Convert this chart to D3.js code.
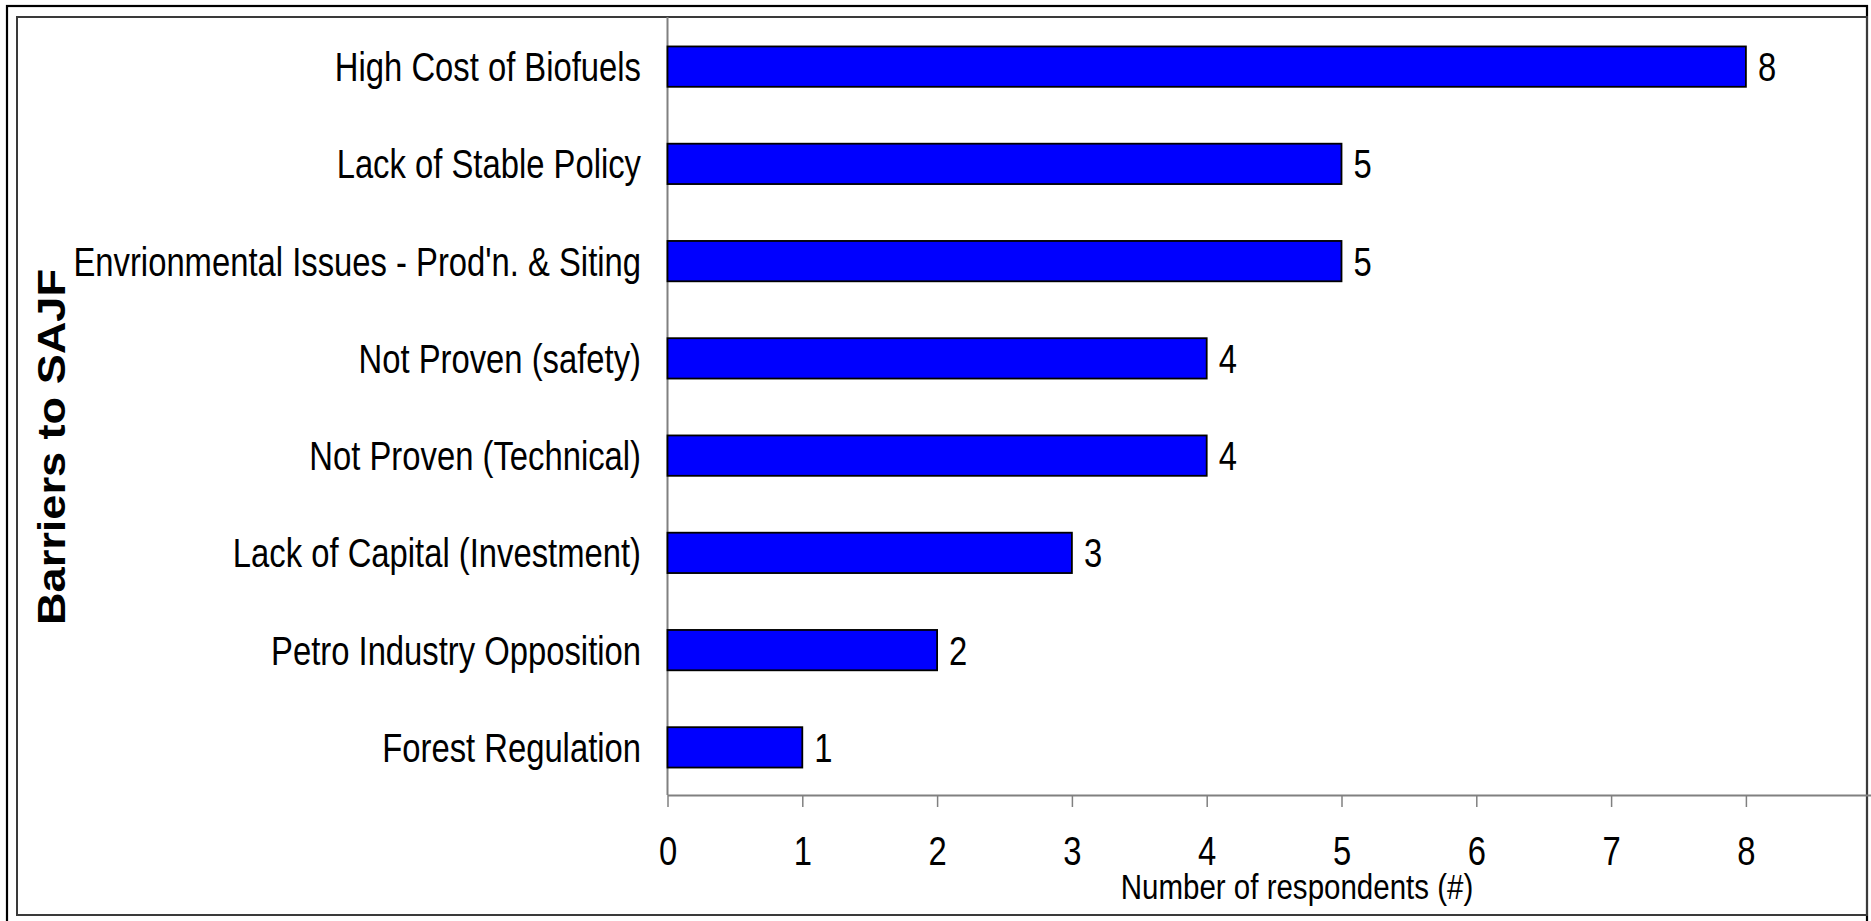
<!DOCTYPE html>
<html>
<head>
<meta charset="utf-8">
<script src="https://cdn.jsdelivr.net/npm/d3@7"></script>
<style>
	body { margin: 0; background: #fff; }
	svg { display: block; }
	text { font-family: 'Liberation Sans', Arial, sans-serif; }
</style>
</head>
<body>
<svg id="chart" width="1871" height="921"></svg>
<script>
/* barriers chart */
var categories = [
	'High Cost of Biofuels',
	'Lack of Stable Policy',
	"Envrionmental Issues - Prod'n. & Siting",
	'Not Proven (safety)',
	'Not Proven (Technical)',
	'Lack of Capital (Investment)',
	'Petro Industry Opposition',
	'Forest Regulation'
];
var respondents = [8, 5, 5, 4, 4, 3, 2, 1];
var tickValues = [0, 1, 2, 3, 4, 5, 6, 7, 8];
var xTitle = 'Number of respondents (#)';
var yTitle = 'Barriers to SAJF';

var plot = { left: 667.5, top: 17, bottom: 795 };
var squeeze = 0.82; // the original font is a narrow one

// move x/y into a transform so the glyphs can be squeezed sideways
function narrow(selection) {
	selection.each(function() {
		var t = d3.select(this);
		var tx = +t.attr('x') || 0, ty = +t.attr('y') || 0;
		t.attr('x', 0).attr('y', 0)
			.attr('transform', 'translate(' + tx + ',' + ty + ') scale(' + squeeze + ',1)');
	});
}

var svg = d3.select('#chart');

// frames
svg.append('rect')
	.attr('x', 7).attr('y', 6)
	.attr('width', 1867 - 7).attr('height', 940)
	.attr('fill', 'none')
	.attr('stroke', '#000')
	.attr('stroke-width', 2.2);

svg.append('rect')
	.attr('x', 17).attr('y', 17)
	.attr('width', 1867 - 17).attr('height', 915 - 17)
	.attr('fill', 'none')
	.attr('stroke', '#3a3a3a')
	.attr('stroke-width', 2);

var x = d3.scaleLinear()
	.domain([0, 9])
	.range([plot.left, plot.left + 9 * 134.8]);

var y = d3.scaleBand()
	.domain(categories)
	.range([plot.top + 1, plot.bottom + 1])
	.paddingInner(0.585)
	.paddingOuter(0.2925);

// y axis line
svg.append('line')
	.attr('x1', x(0)).attr('x2', x(0))
	.attr('y1', plot.top).attr('y2', plot.bottom)
	.attr('stroke', '#808080')
	.attr('stroke-width', 2);

// x axis
var xAxis = svg.append('g')
	.attr('transform', 'translate(0,' + plot.bottom + ')')
	.call(d3.axisBottom(x).tickValues(tickValues).tickSize(12).tickSizeOuter(0).tickPadding(30));

xAxis.attr('font-family', null).attr('font-size', null);
xAxis.select('.domain').attr('stroke', '#808080').attr('stroke-width', 2);
xAxis.selectAll('.tick line').attr('stroke', '#808080').attr('stroke-width', 1.5);
xAxis.selectAll('.tick text')
	.attr('font-size', 40)
	.attr('fill', '#000')
	.attr('transform', 'scale(' + squeeze + ',1)');

// bars
svg.selectAll('rect.bar')
	.data(respondents)
	.enter()
	.append('rect')
	.attr('class', 'bar')
	.attr('x', x(0))
	.attr('y', (d, i) => y(categories[i]))
	.attr('width', d => x(d) - x(0))
	.attr('height', y.bandwidth())
	.attr('fill', '#0000ff')
	.attr('stroke', '#000')
	.attr('stroke-width', 1.8);

// value labels
svg.selectAll('text.value')
	.data(respondents)
	.enter()
	.append('text')
	.attr('class', 'value')
	.attr('x', d => x(d) + 12)
	.attr('y', (d, i) => y(categories[i]) + y.bandwidth() / 2)
	.attr('dy', '0.36em')
	.attr('font-size', 40)
	.text(d => d)
	.call(narrow);

// category labels
svg.selectAll('text.cat')
	.data(categories)
	.enter()
	.append('text')
	.attr('class', 'cat')
	.attr('x', 641)
	.attr('y', d => y(d) + y.bandwidth() / 2)
	.attr('dy', '0.36em')
	.attr('text-anchor', 'end')
	.attr('font-size', 40)
	.text(d => d)
	.call(narrow);

// axis titles
svg.append('text')
	.attr('x', 1297)
	.attr('y', 899)
	.attr('text-anchor', 'middle')
	.attr('font-size', 36)
	.text(xTitle)
	.call(narrow);

svg.append('text')
	.attr('transform', 'translate(65,447) rotate(-90)')
	.attr('text-anchor', 'middle')
	.attr('font-weight', 'bold')
	.attr('font-size', 38)
	.attr('textLength', 356)
	.attr('lengthAdjust', 'spacingAndGlyphs')
	.text(yTitle);
</script>
</body>
</html>
